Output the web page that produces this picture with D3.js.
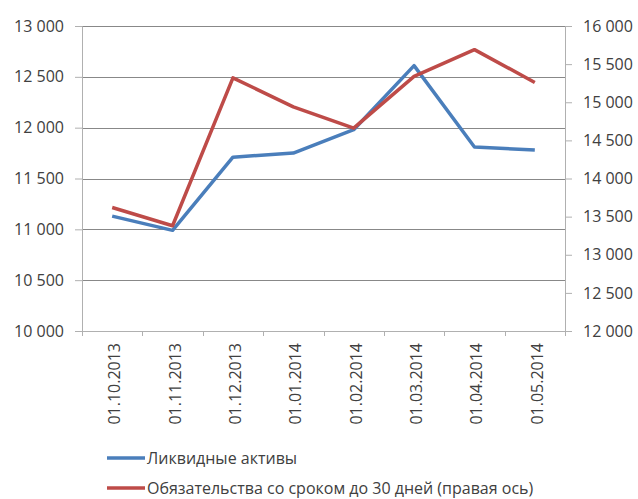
<!DOCTYPE html>
<html>
<head>
<meta charset="utf-8">
<script src="https://cdn.jsdelivr.net/npm/d3@7"></script>
<style>
  html, body { margin: 0; padding: 0; background: #fff; overflow: hidden; }
  svg { display: block; }
  text { font-family: "Open Sans", "Liberation Sans", sans-serif; fill: #404040; }
</style>
</head>
<body>
<script>
// Monthly dates (category axis)
const dates = ["01.10.2013", "01.11.2013", "01.12.2013", "01.01.2014",
               "01.02.2014", "01.03.2014", "01.04.2014", "01.05.2014"];
// Liquid assets, left axis
const liquidAssets = [11130, 10990, 11710, 11750, 11980, 12610, 11810, 11780];
// Liabilities due within 30 days, right axis
const shortLiabilities = [13620, 13380, 15320, 14940, 14660, 15340, 15690, 15260];

const leftTicks = [10000, 10500, 11000, 11500, 12000, 12500, 13000];
const rightTicks = [12000, 12500, 13000, 13500, 14000, 14500, 15000, 15500, 16000];

const seriesNames = ["Ликвидные активы", "Обязательства со сроком до 30 дней (правая ось)"];
const seriesColors = ["#4a7ebb", "#be4b48"];

const W = 638, H = 499;
const m = { left: 82, right: 73, top: 26, bottom: 168 };
const iw = W - m.left - m.right, ih = H - m.top - m.bottom;

const fmt = v => d3.format(",")(v).replace(/,/g, "\u00a0");

const svg = d3.select("body").append("svg").attr("width", W).attr("height", H);
const g = svg.append("g").attr("transform", `translate(${m.left},${m.top})`);

const x = d3.scaleBand().domain(dates).range([0, iw]);
const yL = d3.scaleLinear().domain([10000, 13000]).range([ih, 0]);
const yR = d3.scaleLinear().domain([12000, 16000]).range([ih, 0]);

// horizontal gridlines from the left axis
g.append("g").selectAll("line").data(leftTicks.slice(1)).join("line")
  .attr("x1", 0).attr("x2", iw)
  .attr("y1", d => Math.round(yL(d)) + 0.5).attr("y2", d => Math.round(yL(d)) + 0.5)
  .attr("stroke", "#888").attr("stroke-width", 1);

// left axis
const axL = g.append("g").call(d3.axisLeft(yL).tickValues(leftTicks).tickFormat(fmt).tickSize(7).tickPadding(11));
axL.select(".domain").attr("stroke", "#b0b0b0");
axL.selectAll(".tick line").attr("stroke", "#b0b0b0");
axL.selectAll("text").style("font-size", "16px").attr("fill", "#404040");

// right axis
const axR = g.append("g").attr("transform", `translate(${iw},0)`)
  .call(d3.axisRight(yR).tickValues(rightTicks).tickFormat(fmt).tickSize(7).tickPadding(11));
axR.select(".domain").attr("stroke", "#b0b0b0");
axR.selectAll(".tick line").attr("stroke", "#b0b0b0");
axR.selectAll("text").style("font-size", "16px").attr("fill", "#404040");

// bottom axis with ticks at category boundaries
const axB = g.append("g").attr("transform", `translate(0,${ih})`);
axB.append("line").attr("x1", 0).attr("x2", iw).attr("y1", 0.5).attr("y2", 0.5).attr("stroke", "#b0b0b0");
axB.selectAll("line.tk").data(d3.range(dates.length + 1)).join("line").attr("class", "tk")
  .attr("x1", i => Math.round(i * x.step()) + 0.5).attr("x2", i => Math.round(i * x.step()) + 0.5)
  .attr("y1", 0).attr("y2", 5).attr("stroke", "#b0b0b0");
axB.selectAll("text").data(dates).join("text")
  .attr("transform", d => `translate(${x(d) + x.bandwidth() / 2 + 8},12) rotate(-90)`)
  .attr("text-anchor", "end")
  .style("font-size", "16px")
  .text(d => d);

// series lines
const lineL = d3.line().x((d, i) => x(dates[i]) + x.bandwidth() / 2).y(d => yL(d));
const lineR = d3.line().x((d, i) => x(dates[i]) + x.bandwidth() / 2).y(d => yR(d));

g.append("path").datum(liquidAssets).attr("d", lineL)
  .attr("fill", "none").attr("stroke", seriesColors[0]).attr("stroke-width", 3.5)
  .attr("stroke-linejoin", "round");
g.append("path").datum(shortLiabilities).attr("d", lineR)
  .attr("fill", "none").attr("stroke", seriesColors[1]).attr("stroke-width", 3.5)
  .attr("stroke-linejoin", "round");

// legend
const lg = svg.append("g").attr("transform", "translate(107,0)");
const items = lg.selectAll("g").data(seriesNames).join("g")
  .attr("transform", (d, i) => `translate(0,${458 + i * 30})`);
items.append("line").attr("x1", 0).attr("x2", 38).attr("y1", 0).attr("y2", 0)
  .attr("stroke", (d, i) => seriesColors[i]).attr("stroke-width", 3.5);
items.append("text").attr("x", 40).attr("y", 6).style("font-size", "16px").text(d => d);
</script>
</body>
</html>
